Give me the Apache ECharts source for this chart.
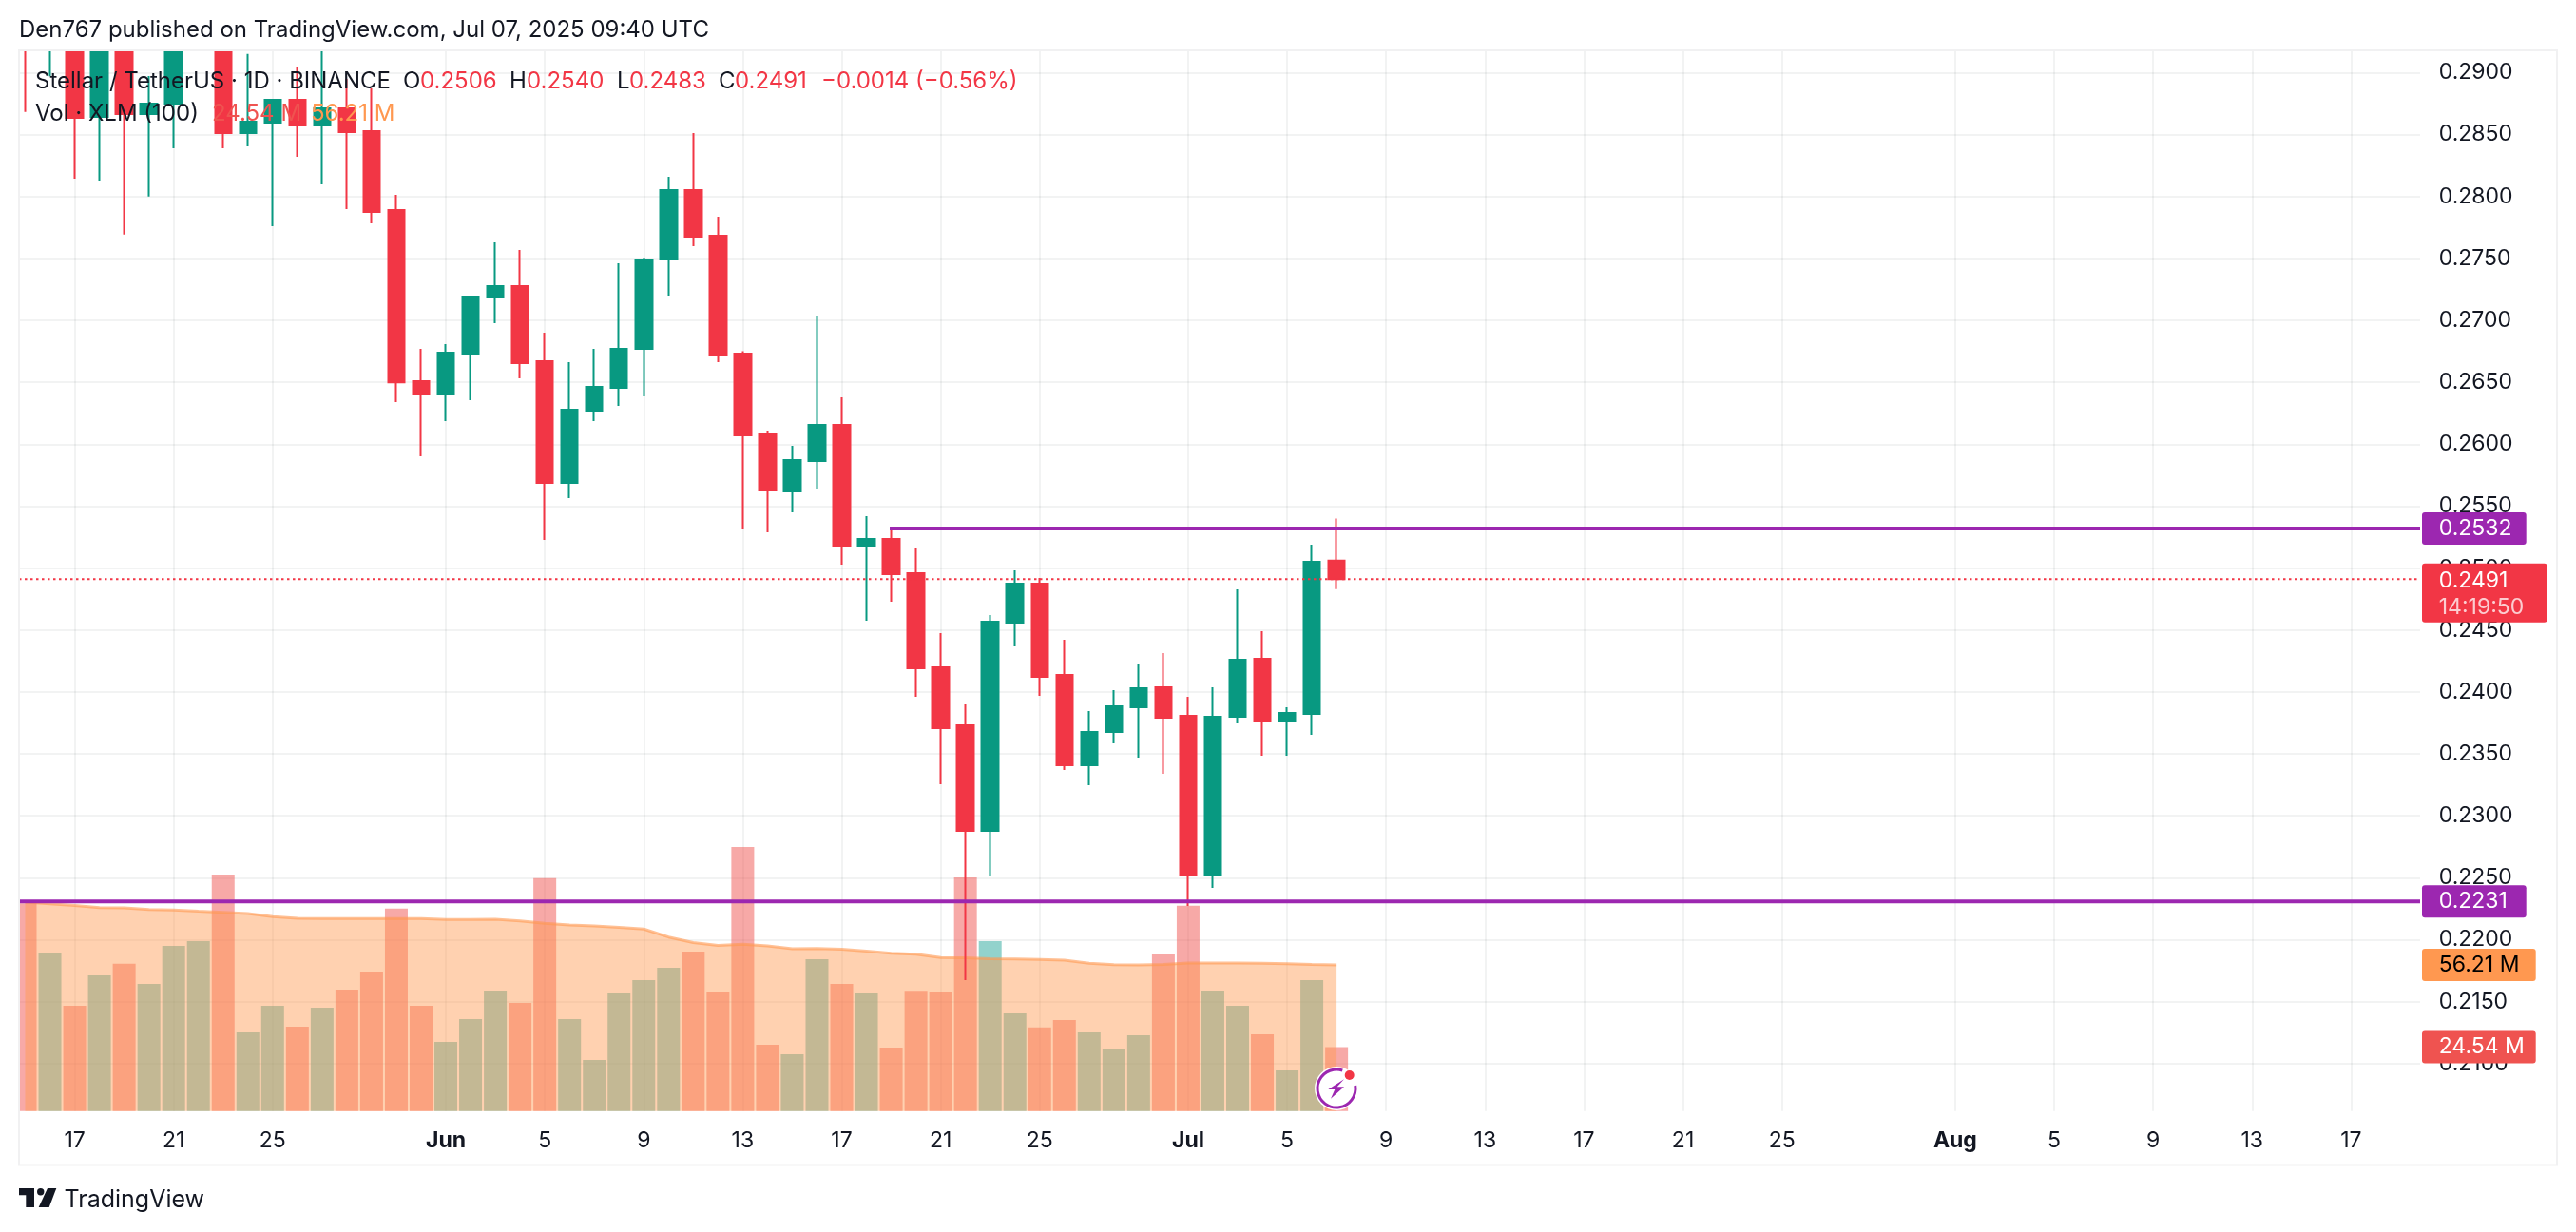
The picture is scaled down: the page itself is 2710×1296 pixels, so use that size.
<!DOCTYPE html>
<html><head><meta charset="utf-8">
<script src="https://cdn.jsdelivr.net/npm/echarts@6/dist/echarts.min.js"></script>
<style>html,body{margin:0;padding:0;background:#fff}#c{width:2710px;height:1296px}</style>
</head><body><div id="c"></div>
<script>
// Day labels: one entry per daily candle, May 15 – Jul 7 2025
const dates = ["May 15","May 16","May 17","May 18","May 19","May 20","May 21","May 22","May 23","May 24","May 25","May 26","May 27","May 28","May 29","May 30","May 31",
"Jun 1","Jun 2","Jun 3","Jun 4","Jun 5","Jun 6","Jun 7","Jun 8","Jun 9","Jun 10","Jun 11","Jun 12","Jun 13","Jun 14","Jun 15","Jun 16","Jun 17","Jun 18","Jun 19","Jun 20","Jun 21","Jun 22","Jun 23","Jun 24","Jun 25","Jun 26","Jun 27","Jun 28","Jun 29","Jun 30",
"Jul 1","Jul 2","Jul 3","Jul 4","Jul 5","Jul 6","Jul 7"];
const opens = [.3010,.2945,.2990,.28642,.2950,.28665,.2875,.2935,.2965,.28511,.28596,.2878,.28573,.28711,.28527,.2789,.26509,
.26401,.26731,.27191,.27276,.2667,.25688,.26271,.26455,.2677,.27491,.28051,.27683,.26731,.26079,.25619,.25864,.26156,.25181,.25235,.24959,.24199,.23731,.22879,.2456,.24874,.24138,.23409,.23677,.23877,.24038,
.23808,.22527,.238,.24268,.23762,.23823,.2506];
const closes = [.2945,.2990,.28634,.2950,.28665,.2875,.2935,.2965,.28511,.28603,.2878,.28573,.28711,.28519,.27874,.2650,.26401,
.26739,.27191,.27276,.26654,.25688,.26278,.26463,.2677,.27491,.28051,.27675,.26723,.26071,.25634,.25872,.26156,.25181,.25235,.24951,.24191,.23708,.22879,.24567,.24874,.24122,.23409,.23677,.23885,.2403,.23792,
.22527,.238,.2426,.23762,.23831,.25051,.2491];
const lows = [.28682,.2897,.28143,.28128,.27693,.279995,.28388,.2925,.28388,.28404,.27759,.2832,.28097,.27897,.27782,.2634,.25902,
.26186,.26355,.26976,.26532,.25227,.25565,.26186,.26309,.26386,.27199,.27598,.26662,.25319,.25289,.2545,.25642,.25028,.24575,.24729,.23961,.23255,.21675,.22519,.24368,.23969,.23371,.23248,.23585,.2347,.2334,
.22273,.22419,.23746,.23485,.23485,.23654,.2483];
const highs = [.3030,.3010,.3010,.2960,.2965,.28972,.2940,.2985,.2975,.2915,.28787,.29048,.2925,.28949,.28872,.28013,.2677,
.26808,.2720,.27629,.27567,.2690,.26662,.2677,.2746,.27506,.28158,.28511,.27836,.2675,.2611,.25987,.27038,.26378,.25419,.25327,.25166,.24475,.239,.24621,.24982,.2492,.24422,.23846,.24015,.2423,.24314,
.23961,.24038,.24828,.24491,.23877,.25189,.2540];
const volumes = [79.9,60.9,40.5,52.2,56.6,48.9,63.5,65.3,90.9,30.2,40.5,32.4,39.7,46.7,53.3,77.8,40.5,
26.6,35.3,46.3,41.6,89.5,35.3,19.6,45.2,50.3,55.1,61.3,45.6,101.5,25.5,21.8,58.4,48.9,45.2,24.4,45.9,45.6,89.8,65.3,37.5,32.1,35.0,30.2,23.6,29.1,60.2,
78.9,46.3,40.5,29.5,15.6,50.3,24.54];
const volumeMA = [80.3,79.7,79.0,78.2,78.1,77.5,77.3,76.8,76.4,75.9,74.7,74.1,74.0,74.0,74.0,74.0,74.0,
73.6,73.6,73.7,73.1,72.2,71.5,71.2,70.6,70.0,66.9,64.8,63.7,64.1,63.5,62.4,62.5,62.2,61.5,60.7,60.3,59.0,58.9,58.6,58.5,58.3,58.0,56.8,56.3,56.2,56.4,
56.9,56.9,56.9,56.8,56.6,56.4,56.21];
const priceTicks = [.21,.215,.22,.225,.23,.235,.24,.245,.25,.255,.26,.265,.27,.275,.28,.285,.29];
const timeTickPositions = [2,6,10,17,21,25,29,33,37,41,47,51,55,59,63,67,71,78,82,86,90,94];
const timeTickLabels = ["17","21","25","Jun","5","9","13","17","21","25","Jul","5","9","13","17","21","25","Aug","5","9","13","17"];
const resistance = 0.2532, resistanceFrom = 35, support = 0.2231, lastPrice = 0.2491, countdown = "14:19:50";
const legendTexts = {title:"Den767 published on TradingView.com, Jul 07, 2025 09:40 UTC", sym:"Stellar / TetherUS · 1D · BINANCE", vol:"Vol · XLM (100)"};

const RED='#F23645', GREEN='#089981', PURPLE='#9C27B0', ORANGE='#FF9850', INK='#131722', F='Inter, "Liberation Sans", sans-serif';
const xMin=-0.25, xMax=96.79, priceMin=.20618, priceMax=.29179, volMax=407.9;
const majors=new Set(["Jun","Jul","Aug"]);
const tag=(bg,color,w,extra)=>Object.assign({show:true,position:'right',distance:2,align:'left',backgroundColor:bg,color,fontFamily:F,fontSize:23,borderRadius:3,
  padding:[0,0,0,17.7],width:w,height:34,lineHeight:34},extra||{});
const hiddenPoint={showSymbol:false,symbol:'none',animation:false,silent:true};

const candles=dates.map((d,i)=>[i,opens[i],closes[i],lows[i],highs[i]]);
const bars=dates.map((d,i)=>({value:[i,volumes[i]],itemStyle:{color:closes[i]>=opens[i]?'rgba(38,166,154,.5)':'rgba(239,83,80,.5)'}}));
const T=(text,x,y,color,opts)=>({type:'text',z:50,silent:true,style:Object.assign({text,x,y,fill:color,font:'24px '+F,verticalAlign:'middle'},opts||{})});
const mask=(x,y,width,height)=>({type:'rect',z:30,silent:true,shape:{x,y,width,height},style:{fill:'#fff'}});

const chart=echarts.init(document.getElementById('c'),null,{renderer:'canvas'});
chart.setOption({
  animation:false,backgroundColor:'#fff',
  grid:{left:20,right:164,top:53,bottom:127.33,containLabel:false},
  xAxis:{type:'value',min:xMin,max:xMax,axisLine:{show:false},axisTick:{show:false,customValues:timeTickPositions},
    splitLine:{show:true,lineStyle:{color:'rgba(42,46,57,.06)',width:2}},
    axisLabel:{customValues:timeTickPositions,margin:20,color:INK,fontFamily:F,fontSize:23,hideOverlap:false,
      formatter:v=>{const s=timeTickLabels[timeTickPositions.indexOf(v)]||'';return majors.has(s)?'{b|'+s+'}':s;},
      rich:{b:{fontWeight:'bold',fontFamily:F,fontSize:23,color:INK}}}},
  yAxis:[
    {type:'value',position:'right',min:priceMin,max:priceMax,axisLine:{show:false},axisTick:{show:false,customValues:priceTicks},
     splitLine:{show:true,lineStyle:{color:'rgba(42,46,57,.06)',width:2}},
     axisLabel:{customValues:priceTicks,margin:19.7,color:INK,fontFamily:F,fontSize:23,padding:[5,0,0,0],formatter:v=>v.toFixed(4)}},
    {type:'value',show:false,min:0,max:volMax,splitLine:{show:false}}
  ],
  series:[
    {name:'Volume',type:'bar',yAxisIndex:1,barWidth:24,z:1,data:bars,animation:false},
    {name:'Vol MA',type:'line',yAxisIndex:1,z:2,...hiddenPoint,data:volumeMA.map((v,i)=>[i,v]),
      lineStyle:{color:'rgba(255,152,80,.6)',width:3},areaStyle:{color:'rgba(255,152,80,.45)',opacity:1}},
    {name:'XLM',type:'candlestick',z:3,barWidth:18,encode:{x:0,y:[1,2,3,4]},data:candles,
      itemStyle:{color:GREEN,color0:RED,borderColor:GREEN,borderColor0:RED,borderWidth:2}},
    {name:'Last price',type:'line',z:4,...hiddenPoint,data:[[xMin,lastPrice],[xMax,lastPrice]],
      lineStyle:{color:RED,width:2,type:[2.5,3.5]},
      endLabel:{show:true,position:'right',distance:2,align:'left',backgroundColor:RED,color:'#fff',borderRadius:3,fontFamily:F,fontSize:23,
        padding:[4,0,0,17.7],width:114,height:58,offset:[0,14.4],lineHeight:27,
        formatter:()=>'{a|'+lastPrice.toFixed(4)+'}\n{c|'+countdown+'}',
        rich:{a:{color:'#fff',fontFamily:F,fontSize:23,lineHeight:28},c:{color:'rgba(255,255,255,.75)',fontFamily:F,fontSize:23,lineHeight:28}}}},
    {name:'Resistance',type:'line',z:5,...hiddenPoint,data:[[resistanceFrom-0.06,resistance],[xMax,resistance]],
      lineStyle:{color:PURPLE,width:4},endLabel:tag(PURPLE,'#fff',92,{formatter:()=>resistance.toFixed(4)})},
    {name:'Support',type:'line',z:5,...hiddenPoint,data:[[xMin,support],[xMax,support]],
      lineStyle:{color:PURPLE,width:4},endLabel:tag(PURPLE,'#fff',92,{formatter:()=>support.toFixed(4)})},
    {name:'MA tag',type:'line',yAxisIndex:1,z:6,...hiddenPoint,data:[[dates.length-1,volumeMA[volumeMA.length-1]],[xMax,volumeMA[volumeMA.length-1]]],
      lineStyle:{opacity:0},endLabel:tag(ORANGE,'#000',102,{formatter:()=>volumeMA[volumeMA.length-1].toFixed(2)+' M'})},
    {name:'Vol tag',type:'line',yAxisIndex:1,z:6,...hiddenPoint,data:[[dates.length-1,volumes[volumes.length-1]],[xMax,volumes[volumes.length-1]]],
      lineStyle:{opacity:0},endLabel:tag('#EF5350','#fff',102,{formatter:()=>volumes[volumes.length-1].toFixed(2)+' M'})}
  ],
  graphic:[
    // keep partly visible candles and the first bar inside the pane
    mask(0,0,2710,52),mask(0,52,19,1180),
    {type:'rect',z:31,silent:true,shape:{x:20,y:53,width:2670,height:1172.5},style:{fill:'none',stroke:'#F1F1F2',lineWidth:2}},
    T(legendTexts.title,20,32,INK),
    T(legendTexts.sym,37,86,INK),
    T('O',424,86,INK),T(opens[opens.length-1].toFixed(4),442,86,RED),
    T('H',536,86,INK),T(highs[highs.length-1].toFixed(4),554,86,RED),
    T('L',649,86,INK),T(lows[lows.length-1].toFixed(4),662,86,RED),
    T('C',756,86,INK),T(closes[closes.length-1].toFixed(4),773,86,RED),
    T('−0.0014 (−0.56%)',864,86,RED),
    T(legendTexts.vol,37,120,INK),
    T(volumes[volumes.length-1].toFixed(2)+' M',223,120,'#EF5350'),
    T(volumeMA[volumeMA.length-1].toFixed(2)+' M',327,120,ORANGE),
    // publish badge
    {type:'circle',z:40,silent:true,shape:{cx:1406,cy:1145,r:23},style:{fill:'#fff'}},
    {type:'arc',z:41,silent:true,shape:{cx:1406,cy:1145,r:20,startAngle:-0.15,endAngle:-1.25,clockwise:true},style:{fill:'none',stroke:PURPLE,lineWidth:3}},
    {type:'polygon',z:41,silent:true,shape:{points:[[1414,1135.3],[1397.3,1146],[1404.3,1146],[1400,1155.7],[1414,1143.3],[1406.7,1143.3]]},style:{fill:PURPLE}},
    {type:'circle',z:43,silent:true,shape:{cx:1419.7,cy:1131,r:5},style:{fill:RED}},
    // TradingView mark
    {type:'polygon',z:40,silent:true,shape:{points:[[20,1250],[36,1250],[36,1270],[27.3,1270],[27.3,1257.3],[20,1257.3]]},style:{fill:INK}},
    {type:'circle',z:40,silent:true,shape:{cx:42.7,cy:1253.7,r:3.7},style:{fill:INK}},
    {type:'polygon',z:40,silent:true,shape:{points:[[50,1250],[59.3,1250],[51.7,1270],[40.7,1270]]},style:{fill:INK}},
    T('TradingView',67.5,1262,INK,{font:'25px '+F})
  ]
});
</script></body></html>
